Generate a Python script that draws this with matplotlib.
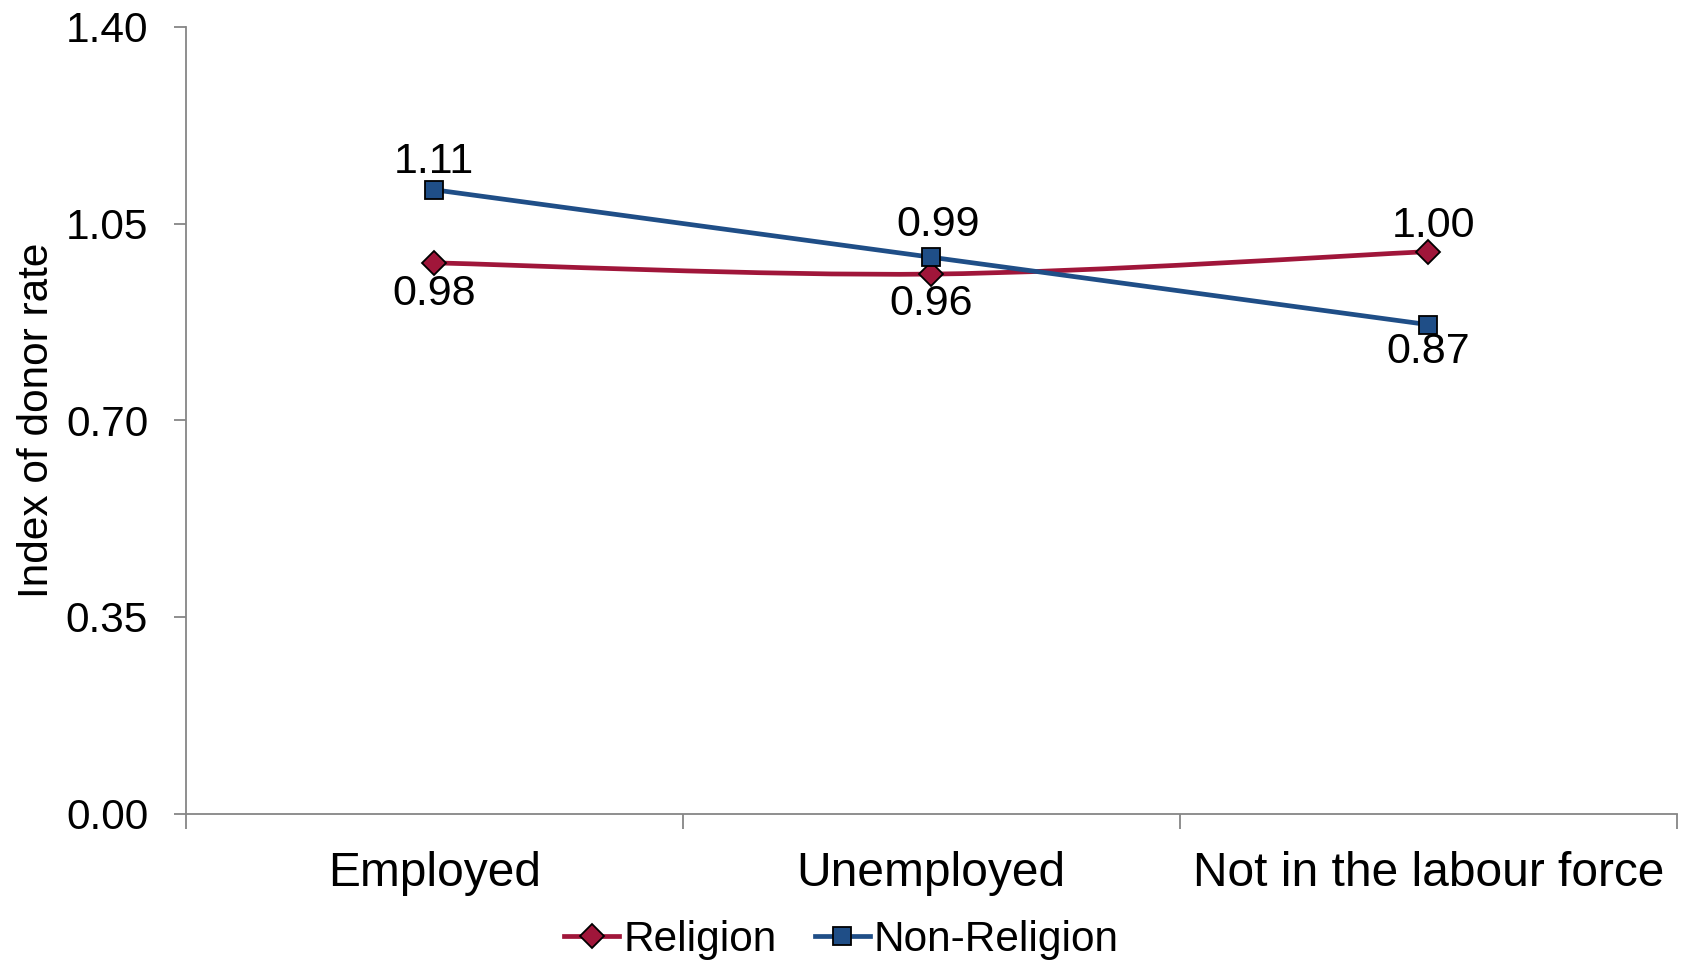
import matplotlib
matplotlib.use("Agg")
import matplotlib.pyplot as plt
from matplotlib.path import Path
from matplotlib.patches import PathPatch
from matplotlib.lines import Line2D

categories = ["Employed", "Unemployed", "Not in the labour force"]
religion = [0.98, 0.96, 1.00]
non_religion = [1.11, 0.99, 0.87]
religion_lbl = ["0.98", "0.96", "1.00"]
non_religion_lbl = ["1.11", "0.99", "0.87"]
yticks = [0.00, 0.35, 0.70, 1.05, 1.40]

RED, BLUE, GREY = "#A0163A", "#1F4E87", "#868686"
plt.rcParams.update({"font.family": ["Liberation Sans", "DejaVu Sans"]})

fig = plt.figure(figsize=(16.83, 9.61), dpi=100)
ax = fig.add_axes([0.1103, 0.1534, 0.8861, 0.8187])
x = list(range(len(categories)))


def smooth_path(xs, ys):
    # Excel-style smoothed line: cubic Bezier through the points
    pts = list(zip(xs, ys))
    ext = [pts[0]] + pts + [pts[-1]]
    verts, codes = [pts[0]], [Path.MOVETO]
    for i in range(len(pts) - 1):
        p0, p1, p2, p3 = ext[i], ext[i + 1], ext[i + 2], ext[i + 3]
        c1 = (p1[0] + (p2[0] - p0[0]) / 6, p1[1] + (p2[1] - p0[1]) / 6)
        c2 = (p2[0] - (p3[0] - p1[0]) / 6, p2[1] - (p3[1] - p1[1]) / 6)
        verts += [c1, c2, p2]
        codes += [Path.CURVE4] * 3
    return Path(verts, codes)


ax.add_patch(PathPatch(smooth_path(x, religion), fill=False, ec=RED, lw=3.4, zorder=2))
ax.plot(x, religion, ls="none", marker="D", ms=12, mfc=RED, mec="black", mew=1.3, zorder=3)
ax.plot(x, non_religion, color=BLUE, lw=3.4, marker="s", ms=13, mfc=BLUE, mec="black",
        mew=1.3, zorder=3)

# data label offsets in points (Excel placed them by hand-ish)
rel_off = [(0, -22.5), (0, -21.5), (4, 18.5)]
non_off = [(0, 20), (5, 23.5), (0, -20)]
for i in x:
    ax.annotate(religion_lbl[i], (x[i], religion[i]), xytext=rel_off[i],
                textcoords="offset points", ha="center", va="center", fontsize=31)
    ax.annotate(non_religion_lbl[i], (x[i], non_religion[i]), xytext=non_off[i],
                textcoords="offset points", ha="center", va="center", fontsize=31)

ax.set_xlim(-0.5, 2.5)
ax.set_ylim(0, 1.40)
ax.set_yticks(yticks)
ax.set_yticklabels([f"{v:.2f}" for v in yticks])
ax.set_xticks(x)
ax.set_xticklabels(categories)
ax.set_xticks([-0.5, 0.5, 1.5, 2.5], minor=True)
ax.tick_params(axis="x", which="major", length=0, labelsize=34.5, pad=27)
ax.tick_params(axis="x", which="minor", length=11, width=1.3, color=GREY)
ax.tick_params(axis="y", length=9, width=1.3, color=GREY, labelsize=30.5, pad=18)
ax.set_ylabel("Index of donor rate", fontsize=30.5, labelpad=6)
ax.spines[["top", "right"]].set_visible(False)
for s in ("left", "bottom"):
    ax.spines[s].set_color(GREY)
    ax.spines[s].set_linewidth(1.3)

handles = [
    Line2D([], [], color=RED, lw=3.4, marker="D", ms=12, mfc=RED, mec="black", mew=1.3),
    Line2D([], [], color=BLUE, lw=3.4, marker="s", ms=13, mfc=BLUE, mec="black", mew=1.3),
]
fig.legend(handles, ["Religion", "Non-Religion"], loc="center", bbox_to_anchor=(0.5, 0.022),
           ncol=2, frameon=False, fontsize=30.5, handlelength=1.3, handletextpad=0.1,
           columnspacing=0.9)

fig.savefig("out.png", dpi=100, facecolor="white")
